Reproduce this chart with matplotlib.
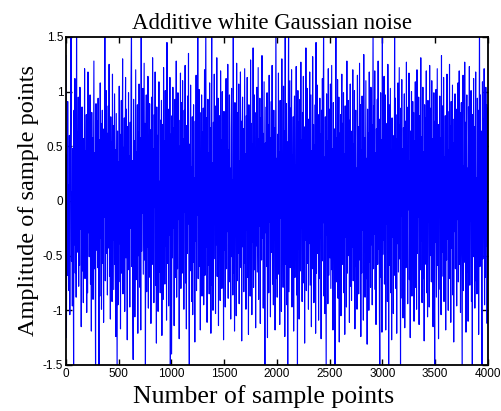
import numpy as np
import matplotlib
matplotlib.use("Agg")
import matplotlib.pyplot as plt

plt.rcParams['axes.unicode_minus'] = False

# amplitudes in hundredths, one value every 4 samples (0..4000)
amp = [
    133, -125, 42, -68, 91, -37, 15, -82, 60, -104, 27, 74, 162, -55, 8, -96, 48, -21, -158, 83, -40, 112, -66, 35, -88,
    171, -47, 63, -12, 95, -78, 31, -59, 104, -26, 70, -115, 18, 86, -64, 39, -93, 57, -8, 121, -71, 46, -33, 79, -102,
    52, -84, 118, -29, 67, -51, 5, 97, -76, 38, -119, 81, -17, 58, -90, 24, 128, -62, 44, -38, -163, 89, -45, 16, 73,
    -61, 94, -22, -172, 56, -87, 108, -34, 71, -99, 12, 83, -57, 41, -111, 66, -15, 168, -73, 29, 101, -48, 62, -86, 19,
    87, -43, 125, -69, 33, -108, 77, -3, 54, -92, 116, -36, 69, -81, 22, 98, -58, 47, -124, 80, -27, -160, 64, -95, 36,
    -74, 105, -39, 61, -117, 28, 92, -66, 13, 130, -85, 49, -20, 76, -101, 35, 113, -52, 84, -9, -127, 68, -44, 99, -63,
    41, -97, 72, -25, 110, 158, -60, 37, -88, -145, 93, -31, 55, -106, 20, 120, -72, 45, -14, 88, -121, 63, -50, 107, -37,
    -79, 58, -118, 166, -46, 82, -11, 103, -67, 30, 126, -54, 71, -169, 39, 97, -83, 16, -42, 114, -98, 51, -23, 89, -70,
    65, -112, 24, 95, -58, 131, -35, 48, -93, 79, -6, 118, -77, 42, -130, 86, -28, 60, -101, 33, 109, -65, 18, -84, 74,
    -49, 92, -123, 37, 70, -90, 122, -19, 55, -76, 101, -41, 66, -109, 145, -57, 28, 84, -96, 47, -31, 113, -165, 61, -38,
    -140, 78, -52, 104, -25, 67, -114, 43, 93, -70, 15, 128, -88, 36, -62, 99, -17, 74, -126, 50, -44, 117, -80, 26, 90,
    -66, 110, -33, 57, -99, 83, -10, 124, -75, 40, -117, 69, -48, 96, -21, 135, -86, -170, 52, -39, 106, -64, 31, -92, 77,
    -104, 46, 88, -56, 21, -129, 73, -37, 115, -82, 58, -13, 164, -71, 34, 102, -60, 81, -118, 27, -46, 97, -87, 63, -24,
    85, -95, 39, 120, -68, 54, 170, -42, 76, -111, 29, 93, -59, 44, -85, 108, -30, 67, -121, 49, 159, -77, 35, -100, 72,
    -53, 116, -18, 62, -103, 87, -40, 131, -69, 25, 94, -114, 51, -7, 78, -91, 119, -35, 56, -80, 100, -58, 14, -127, 82,
    -45, 69, -97, 38, 112, -62, 84, -28, 125, -89, 47, -16, 97, -74, 30, -108, 65, 103, -51, 19, -86, 173, -66, 41, -119,
    90, -32, 55, -105, 126, -73, 22, 81, -48, 107, -94, 37, -61, 118, -20, 73, -128, 50, 95, -42, 66, -83, 11, 121, -57,
    43, -99, 78, -27, 113, -70, 35, -122, 88, -46, 60, -87, 129, -14, 71, -104, 52, -38, 140, -79, 24, 97, -63, 46, -116,
    81, -41, 104, -65, 28, 122, -90, 57, -23, 94, -112, 40, 76, -54, 133, -34, 62, -98, 18, 109, -72, -167, 53, -29, 86,
    -60, 99, -125, 44, 70, -84, 115, -19, 58, -106, 32, 91, -47, 124, -76, 21, -95, 83, -36, 67, -118, 48, 176, -71, 39,
    -88, 61, -30, 117, -67, 45, -113, 92, -16, 73, -101, 130, -52, 36, -79, 105, -43, 64, -124, 161, -58, 27, 89, -95, 54,
    -171, 49, 167, -83, 26, 110, -61, 85, -37, 120, -97, 42, -15, 77, -119, 58, 96, -70, 33, -50, 123, -86, 64, -162, 101,
    -44, 72, -108, 38, 93, -64, 127, -25, 56, -92, 81, -12, 114, -75, 47, -130, 68, -36, 140, -82, 30, 103, -57, 75, -99,
    59, -39, 118, -77, 20, 97, -115, 46, -62, 132, -28, 70, -93, 51, -10, 88, -121, 145, -66, 34, 106, -48, 79, -109, 25,
    -71, 94, -34, 61, -126, 83, -55, 112, -20, 69, 172, -87, 40, -103, 77, -45, -159, 98, -31, 55, -94, 121, -68, 36, 84,
    -52, 107, -80, 29, 124, -63, 48, -118, 90, -24, 66, -96, -168, 41, 170, -74, 58, -37, 111, -89, 23, 95, -129, 62, -46,
    79, -105, 35, 116, -58, 71, -19, 99, -84, 43, -122, 87, -33, 60, -97, 128, -66, 26, 92, -50, 74, -111, 39, 107, -78,
    31, -91, 64, -42, 120, -73, 52, -14, 101, -117, 45, 83, -60, 30, -99, 115, -38, 68, -85, 21, 126, -54, 88, -124, 47,
    -66, 96, -27, 73, -109, 134, -47, 58, -88, 19, 110, -71, 39, -131, 84, -22, 62, -100, 118, -56, 33, -79, 104, -40, 70,
    -95, 51, 163, -62, 87, -30, 119, -81, 44, -113, 66, -17, 93, -58, 128, -44, 75, -102, -166, 38, 99, -70, 56, -120, 168,
    -49, 82, -36, 114, -76, 27, 97, -118, 53, -21, 71, -92, 125, 40, -161, 88, -59, 16, 103, -84, 47, -127, 76, -33, 60,
    -103, 42, -68, 165, -26, 94, -80, 57, -121, 79, -39, 108, -65, 34, 122, -53, 70, -164, 85, -14, 111, -89, 48, -107, 67,
    -45, 98, -116, 29, 73, -61, 127, -34, 50, -94, 86, -8, 117, -72, 37, -125, 64, -41, 100, -87, 22, 91, -56, 81, -110,
    55, -23, 109, -79, 41, -99, 120, -48, 67, -15, 95, -113, 32, 78, -63, 131, -37, 59, -93, 26, 104, -71, 45, -128, 88,
    -58, 76, -31, 119, -84, 48, -106, 92, -19, 63, -97, 124, -50, 35, 85, -74, 110, -42, 57, -115, 28, 99, -66, -163, 73,
    -38, 102, -88, 26, 121, -59, 70, -126, 44, -12, 96, -81, 58, -104, 133, -47, 31, 87, -69, 113, -92, 40, -25, 78, -118,
    63, -54, 116, -35, 82, -100, 47, -71, 125, -20, 69, -111, 91, -43, 37, 106, -86, 53, -129, 75, -28, 98, -62, 34, 84,
    -96, 50, -17, 108, -74, 39, 119, -58, 81, -102, 24, 90, -45, -169, 66, 115, -82, 32, -56, 127, -38, 72, -120, 54, 97,
    -65, 30, -110, 86, -40, 123, -77, 58, -18, 101, -92, 46, -162, 79, -51, 112, -30, 68, -98, 36, 118, -73, 21, -85, 94,
    -47, 83, -122, 40, 171, -60, 97, -36, 64, -89, -165, 109, -53, 75, -28, 121, -95, 47, -70, 104, -41, 88, -112, 60, 85,
]
n_total = 4000
x_ticks = [0, 500, 1000, 1500, 2000, 2500, 3000, 3500, 4000]
y_ticks = [-1.5, -1, -0.5, 0, 0.5, 1, 1.5]
y_tick_labels = ['-1.5', '-1', '-0.5', '0', '0.5', '1', '1.5']

y = np.array(amp) / 100.0
x = np.linspace(0, n_total, len(y))

fig = plt.figure(figsize=(5.02, 4.11), dpi=100)
ax = fig.add_axes([0.1315, 0.112, 0.8405, 0.798])
ax.plot(x, y, color='#0000ff', linewidth=0.8)

ax.set_xlim(0, n_total)
ax.set_ylim(-1.5, 1.5)
ax.set_xticks(x_ticks)
ax.set_yticks(y_ticks)
ax.set_yticklabels(y_tick_labels)
ax.tick_params(direction='in', top=True, right=True, length=4, width=1,
               labelsize=8.5, pad=2)
for lab in ax.get_xticklabels() + ax.get_yticklabels():
    lab.set_family('Liberation Sans')
for sp in ax.spines.values():
    sp.set_linewidth(1.3)

ax.set_title('Additive white Gaussian noise',
             fontdict={'family': 'Liberation Serif', 'size': 16.5}, x=0.489, pad=6)
ax.set_xlabel('Number of sample points',
              fontdict={'family': 'Liberation Serif', 'size': 18.5})
ax.set_ylabel('Amplitude of sample points',
              fontdict={'family': 'Liberation Serif', 'size': 17.5}, labelpad=3)
ax.xaxis.set_label_coords(0.469, -0.062)

fig.savefig('out.png', dpi=100)
